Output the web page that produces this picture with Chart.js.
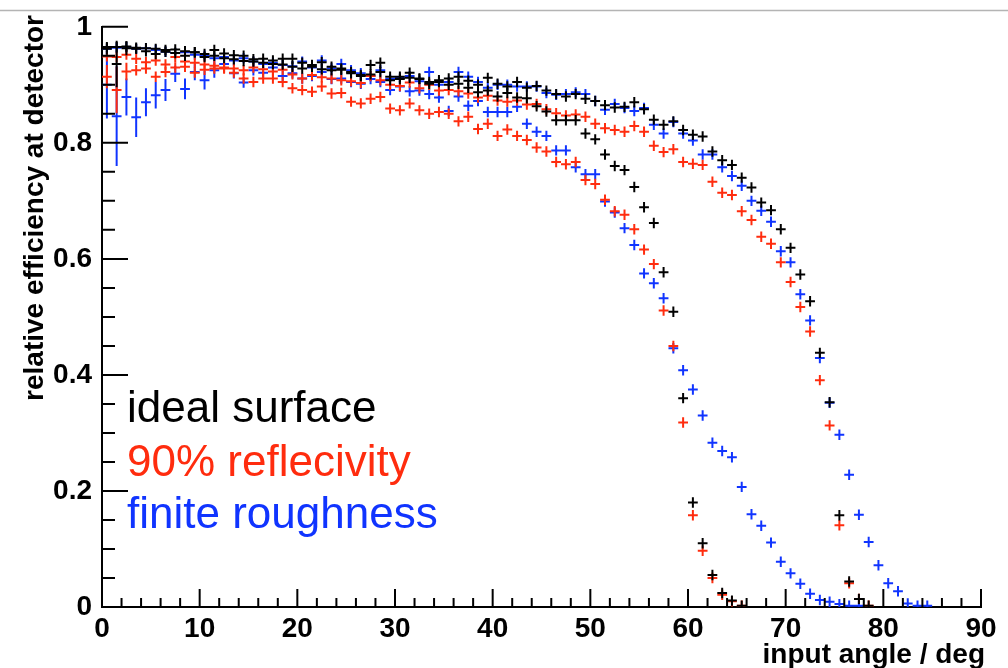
<!DOCTYPE html>
<html>
<head>
<meta charset="utf-8">
<script src="https://cdn.jsdelivr.net/npm/chart.js@4.4.0/dist/chart.umd.min.js"></script>
<style>
  html, body { margin: 0; padding: 0; background: #fff; }
  canvas { display: block; }
</style>
</head>
<body>
<canvas id="effChart" width="1008" height="668"></canvas>
<script>
// bin centres of the 1 deg histogram
const angles = [
  0.5, 1.5, 2.5, 3.5, 4.5, 5.5, 6.5, 7.5, 8.5, 9.5,
  10.5, 11.5, 12.5, 13.5, 14.5, 15.5, 16.5, 17.5, 18.5, 19.5,
  20.5, 21.5, 22.5, 23.5, 24.5, 25.5, 26.5, 27.5, 28.5, 29.5,
  30.5, 31.5, 32.5, 33.5, 34.5, 35.5, 36.5, 37.5, 38.5, 39.5,
  40.5, 41.5, 42.5, 43.5, 44.5, 45.5, 46.5, 47.5, 48.5, 49.5,
  50.5, 51.5, 52.5, 53.5, 54.5, 55.5, 56.5, 57.5, 58.5, 59.5,
  60.5, 61.5, 62.5, 63.5, 64.5, 65.5, 66.5, 67.5, 68.5, 69.5,
  70.5, 71.5, 72.5, 73.5, 74.5, 75.5, 76.5, 77.5, 78.5, 79.5,
  80.5, 81.5, 82.5, 83.5, 84.5, 85.5, 86.5, 87.5, 88.5, 89.5
];

// ideal surface, short and long guide
const idealShort = [
  0.962, 0.936, 0.963, 0.962, 0.958, 0.953, 0.957, 0.955, 0.950, 0.956,
  0.948, 0.950, 0.946, 0.944, 0.941, 0.940, 0.938, 0.936, 0.935, 0.931,
  0.928, 0.931, 0.927, 0.925, 0.926, 0.920, 0.915, 0.918, 0.922, 0.908,
  0.910, 0.912, 0.911, 0.905, 0.908, 0.900, 0.902, 0.895, 0.887, 0.890,
  0.880, 0.886, 0.878, 0.877, 0.863, 0.854, 0.839, 0.839, 0.839, 0.816,
  0.806, 0.780, 0.760, 0.753, 0.724, 0.689, 0.662, 0.577, 0.509, 0.360,
  0.180, 0.110, 0.055, 0.024, 0.011, 0.002
];
const idealLong = [
  0.965, 0.965, 0.966, 0.964, 0.963, 0.962, 0.960, 0.961, 0.958, 0.956,
  0.953, 0.960, 0.954, 0.951, 0.950, 0.944, 0.945, 0.942, 0.945, 0.945,
  0.938, 0.934, 0.939, 0.931, 0.928, 0.922, 0.917, 0.934, 0.938, 0.914,
  0.914, 0.921, 0.910, 0.902, 0.905, 0.911, 0.914, 0.907, 0.900, 0.912,
  0.902, 0.897, 0.905, 0.895, 0.898, 0.890, 0.884, 0.880, 0.884, 0.876,
  0.872, 0.865, 0.861, 0.862, 0.870, 0.858, 0.840, 0.831, 0.837, 0.822,
  0.814, 0.811, 0.785, 0.770, 0.762, 0.740, 0.723, 0.697, 0.684, 0.651,
  0.619, 0.573, 0.527, 0.438, 0.353, 0.158, 0.044, 0.014, 0.002
];

// 90% reflectivity
const reflShort = [
  0.914, 0.891, 0.923, 0.925, 0.928, 0.914, 0.922, 0.930, 0.931, 0.921,
  0.926, 0.928, 0.928, 0.921, 0.911, 0.905, 0.911, 0.911, 0.905, 0.894,
  0.891, 0.888, 0.897, 0.885, 0.886, 0.871, 0.868, 0.876, 0.879, 0.859,
  0.856, 0.868, 0.856, 0.850, 0.853, 0.850, 0.837, 0.845, 0.824, 0.833,
  0.812, 0.823, 0.812, 0.805, 0.792, 0.785, 0.767, 0.763, 0.767, 0.736,
  0.729, 0.702, 0.682, 0.676, 0.651, 0.616, 0.591, 0.511, 0.450, 0.318,
  0.158, 0.097, 0.050, 0.021, 0.010, 0.002
];
const reflLong = [
  0.949, 0.948, 0.952, 0.945, 0.939, 0.942, 0.935, 0.948, 0.940, 0.938,
  0.935, 0.933, 0.930, 0.928, 0.925, 0.930, 0.927, 0.923, 0.926, 0.918,
  0.911, 0.917, 0.913, 0.911, 0.908, 0.906, 0.903, 0.915, 0.908, 0.900,
  0.898, 0.904, 0.894, 0.900, 0.890, 0.891, 0.889, 0.885, 0.878, 0.881,
  0.873, 0.871, 0.873, 0.866, 0.867, 0.858, 0.851, 0.847, 0.849, 0.845,
  0.833, 0.825, 0.822, 0.819, 0.829, 0.819, 0.795, 0.784, 0.789, 0.767,
  0.764, 0.762, 0.733, 0.714, 0.710, 0.682, 0.667, 0.638, 0.626, 0.594,
  0.560, 0.517, 0.475, 0.391, 0.313, 0.141, 0.041, 0.014, 0.002
];

// finite roughness
const roughShort = [
  0.900, 0.846, 0.879, 0.844, 0.870, 0.882, 0.891, 0.919, 0.893, 0.922,
  0.908, 0.925, 0.936, 0.920, 0.904, 0.925, 0.921, 0.930, 0.915, 0.920,
  0.911, 0.915, 0.922, 0.910, 0.911, 0.905, 0.902, 0.910, 0.905, 0.891,
  0.897, 0.889, 0.890, 0.884, 0.878, 0.855, 0.880, 0.864, 0.872, 0.853,
  0.853, 0.853, 0.862, 0.833, 0.819, 0.812, 0.787, 0.787, 0.758, 0.746,
  0.746, 0.699, 0.680, 0.653, 0.624, 0.575, 0.558, 0.532, 0.446, 0.408,
  0.375, 0.330, 0.283, 0.269, 0.258, 0.207, 0.160, 0.140, 0.111, 0.078,
  0.058, 0.040, 0.023, 0.012, 0.009, 0.005, 0.002, 0.002
];
const roughLong = [
  0.962, 0.964, 0.965, 0.962, 0.963, 0.960, 0.957, 0.955, 0.956, 0.952,
  0.950, 0.946, 0.948, 0.942, 0.946, 0.940, 0.936, 0.938, 0.934, 0.932,
  0.940, 0.930, 0.942, 0.928, 0.936, 0.925, 0.920, 0.915, 0.925, 0.910,
  0.912, 0.915, 0.906, 0.922, 0.900, 0.905, 0.922, 0.914, 0.905, 0.895,
  0.900, 0.900, 0.897, 0.897, 0.897, 0.886, 0.883, 0.884, 0.887, 0.884,
  0.872, 0.857, 0.867, 0.860, 0.855, 0.860, 0.831, 0.816, 0.836, 0.816,
  0.804, 0.780, 0.780, 0.758, 0.743, 0.726, 0.700, 0.683, 0.664, 0.613,
  0.594, 0.539, 0.494, 0.429, 0.352, 0.297, 0.228, 0.159, 0.112, 0.072,
  0.041, 0.027, 0.006, 0.002, 0.002
];

// statistical errors; low-angle bins have few entries
const errBar = 0.009;
const idealShortErr = [0.010, 0.040, 0.012];
const reflShortErr = [0.020, 0.040, 0.015];
const roughShortErr = [0.058, 0.086, 0.032, 0.034, 0.024, 0.023, 0.019, 0.014, 0.018, 0.014, 0.016, 0.013];

const halfBin = 0.5;
const BLACK = '#000000';
const RED = '#ff2c0e';
const BLUE = '#1034ff';

const toPoints = (vals) => vals.map((v, i) => ({ x: angles[i], y: v }));

// inward ROOT-style ticks
const tickPlugin = {
  id: 'rootTicks',
  afterDraw(chart) {
    const { ctx, chartArea: a, scales: { x, y } } = chart;
    ctx.save();
    ctx.strokeStyle = '#000';
    ctx.lineWidth = 2;
    ctx.beginPath();
    for (let t = 0; t <= 90; t += 2) {
      const px = x.getPixelForValue(t);
      const len = t % 10 === 0 ? 18 : 9;
      ctx.moveTo(px, a.bottom);
      ctx.lineTo(px, a.bottom - len);
    }
    for (let k = 0; k <= 20; k++) {
      const py = y.getPixelForValue(k * 0.05);
      const len = k % 4 === 0 ? 26 : 13;
      ctx.moveTo(a.left, py);
      ctx.lineTo(a.left + len, py);
    }
    ctx.stroke();
    ctx.restore();
  }
};

// points drawn as histogram crosses: bin width horizontally, error vertically
const crossPlugin = {
  id: 'errCrosses',
  afterDatasetsDraw(chart) {
    const { ctx, chartArea: a, scales: { x, y } } = chart;
    ctx.save();
    ctx.beginPath();
    ctx.rect(a.left, a.top - 4, a.width, a.height + 4);
    ctx.clip();
    ctx.lineWidth = 2;
    chart.data.datasets.forEach((ds, di) => {
      const meta = chart.getDatasetMeta(di);
      ctx.strokeStyle = ds.borderColor;
      ctx.beginPath();
      meta.data.forEach((pt, i) => {
        const d = ds.data[i];
        const e = (ds.errors && ds.errors[i] != null) ? ds.errors[i] : errBar;
        const xl = x.getPixelForValue(d.x - halfBin);
        const xr = x.getPixelForValue(d.x + halfBin);
        const yt = y.getPixelForValue(d.y + e);
        const yb = y.getPixelForValue(Math.max(d.y - e, 0));
        ctx.moveTo(xl, pt.y);
        ctx.lineTo(xr, pt.y);
        ctx.moveTo(pt.x, yt);
        ctx.lineTo(pt.x, yb);
      });
      ctx.stroke();
    });
    ctx.restore();
  }
};

// axis titles, legend text and the thin frame line at the top
const textPlugin = {
  id: 'labels',
  afterDraw(chart) {
    const { ctx } = chart;
    ctx.save();
    ctx.strokeStyle = '#b4b4b4';
    ctx.lineWidth = 1.5;
    ctx.beginPath();
    ctx.moveTo(0, 10.5);
    ctx.lineTo(1008, 10.5);
    ctx.stroke();

    ctx.fillStyle = '#000';
    ctx.font = "bold 28px 'Liberation Sans', Arial, sans-serif";
    ctx.textAlign = 'right';
    ctx.textBaseline = 'alphabetic';
    ctx.fillText('input angle / deg', 985, 663);

    ctx.save();
    ctx.translate(43, 15);
    ctx.rotate(-Math.PI / 2);
    ctx.textAlign = 'right';
    ctx.fillText('relative efficiency at detector', 0, 0);
    ctx.restore();

    ctx.font = "44px 'Liberation Sans', Arial, sans-serif";
    ctx.textAlign = 'left';
    ctx.fillStyle = BLACK;
    ctx.fillText('ideal surface', 127, 422);
    ctx.fillStyle = RED;
    ctx.fillText('90% reflecivity', 127, 476);
    ctx.fillStyle = BLUE;
    ctx.fillText('finite roughness', 127, 528);
    ctx.restore();
  }
};

const tickFont = { family: "'Liberation Sans', Arial, sans-serif", size: 28, weight: 'bold' };

new Chart(document.getElementById('effChart'), {
  type: 'scatter',
  data: {
    datasets: [
      { label: 'finite roughness', data: toPoints(roughShort), errors: roughShortErr, borderColor: BLUE },
      { label: 'finite roughness', data: toPoints(roughLong), borderColor: BLUE },
      { label: '90% reflecivity', data: toPoints(reflShort), errors: reflShortErr, borderColor: RED },
      { label: '90% reflecivity', data: toPoints(reflLong), borderColor: RED },
      { label: 'ideal surface', data: toPoints(idealShort), errors: idealShortErr, borderColor: BLACK },
      { label: 'ideal surface', data: toPoints(idealLong), borderColor: BLACK }
    ]
  },
  options: {
    responsive: false,
    animation: false,
    devicePixelRatio: 1,
    elements: { point: { radius: 0, hoverRadius: 0 } },
    layout: { padding: { top: 17, right: 27, left: 0, bottom: 0 } },
    plugins: { legend: { display: false }, tooltip: { enabled: false } },
    scales: {
      x: {
        type: 'linear', min: 0, max: 90,
        grid: { display: false, drawTicks: false },
        border: { display: true, color: '#000', width: 2 },
        ticks: { stepSize: 10, color: '#000', font: tickFont, padding: 5, maxRotation: 0, autoSkip: false },
        afterFit: (s) => { s.height = 61; }
      },
      y: {
        min: 0, max: 1,
        grid: { display: false, drawTicks: false },
        border: { display: true, color: '#000', width: 2 },
        ticks: {
          stepSize: 0.2, color: '#000', font: tickFont, padding: 10,
          callback: (v) => String(Number(v.toFixed(2)))
        },
        afterFit: (s) => { s.width = 102; }
      }
    }
  },
  plugins: [tickPlugin, crossPlugin, textPlugin]
});
</script>
</body>
</html>
